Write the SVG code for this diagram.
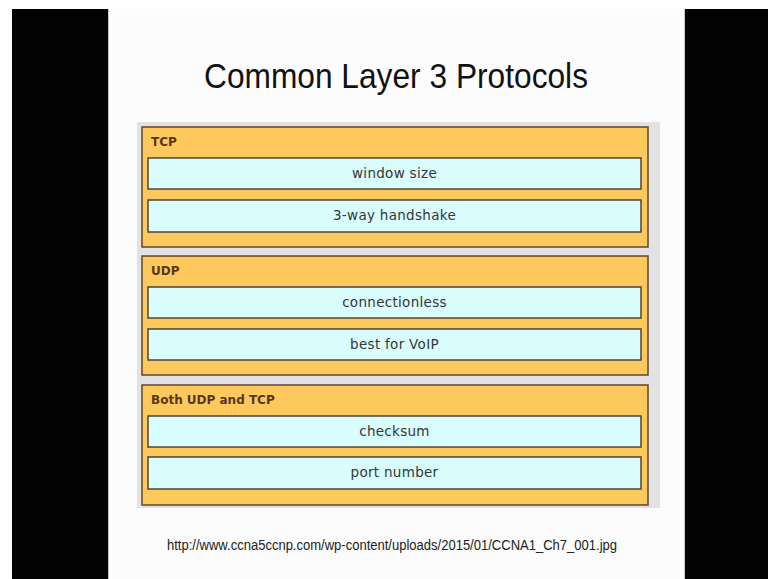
<svg xmlns="http://www.w3.org/2000/svg" width="768" height="579" viewBox="0 0 768 579">
  <style>
    .title { font-family: "Liberation Sans", Arial, sans-serif; font-size: 35px; fill: #111; }
    .url { font-family: "Liberation Sans", Arial, sans-serif; font-size: 15.5px; fill: #222; }
    .group { fill: #fdc95c; stroke: #5e4630; stroke-width: 1.5; }
    .item { fill: #d9fcfc; stroke: #4f4436; stroke-width: 1.5; }
    .label { font-family: "DejaVu Sans", Verdana, sans-serif; font-size: 12px; font-weight: bold; fill: #5a3516; }
    .itext { font-family: "DejaVu Sans", Verdana, sans-serif; font-size: 13.5px; letter-spacing: 0.3px; fill: #363636; text-anchor: middle; }
  </style>

  <!-- frame -->
  <rect x="0" y="0" width="768" height="579" fill="#ffffff"/>
  <rect x="12" y="9" width="96" height="570" fill="#030303"/>
  <rect x="685" y="9" width="83" height="570" fill="#030303"/>
  <rect x="108" y="9" width="577" height="570" fill="#fcfcfc"/>
  <line x1="108.5" y1="9" x2="108.5" y2="579" stroke="#c8c8c8" stroke-width="1"/>
  <line x1="684.5" y1="9" x2="684.5" y2="579" stroke="#c8c8c8" stroke-width="1"/>

  <text class="title" x="396" y="88" text-anchor="middle" textLength="384" lengthAdjust="spacingAndGlyphs">Common Layer 3 Protocols</text>

  <!-- panel -->
  <rect x="137" y="122" width="523" height="386" fill="#e2e2e2"/>

  <g id="tcp">
    <rect class="group" x="142" y="127" width="506" height="120"/>
    <text class="label" x="151" y="146">TCP</text>
    <rect class="item" x="148" y="158" width="493" height="31"/>
    <text class="itext" x="394.5" y="177.5">window size</text>
    <rect class="item" x="148" y="200" width="493" height="32"/>
    <text class="itext" x="394.5" y="219.5">3-way handshake</text>
  </g>

  <g id="udp">
    <rect class="group" x="142" y="256" width="506" height="119"/>
    <text class="label" x="151" y="275">UDP</text>
    <rect class="item" x="148" y="287" width="493" height="31"/>
    <text class="itext" x="394.5" y="306.5">connectionless</text>
    <rect class="item" x="148" y="329" width="493" height="31"/>
    <text class="itext" x="394.5" y="348.5">best for VoIP</text>
  </g>

  <g id="both">
    <rect class="group" x="142" y="385" width="506" height="120"/>
    <text class="label" x="151" y="404">Both UDP and TCP</text>
    <rect class="item" x="148" y="416" width="493" height="31"/>
    <text class="itext" x="394.5" y="435.5">checksum</text>
    <rect class="item" x="148" y="457" width="493" height="32"/>
    <text class="itext" x="394.5" y="476.5">port number</text>
  </g>

  <text class="url" x="167" y="550" textLength="450" lengthAdjust="spacingAndGlyphs">http://www.ccna5ccnp.com/wp-content/uploads/2015/01/CCNA1_Ch7_001.jpg</text>
</svg>
